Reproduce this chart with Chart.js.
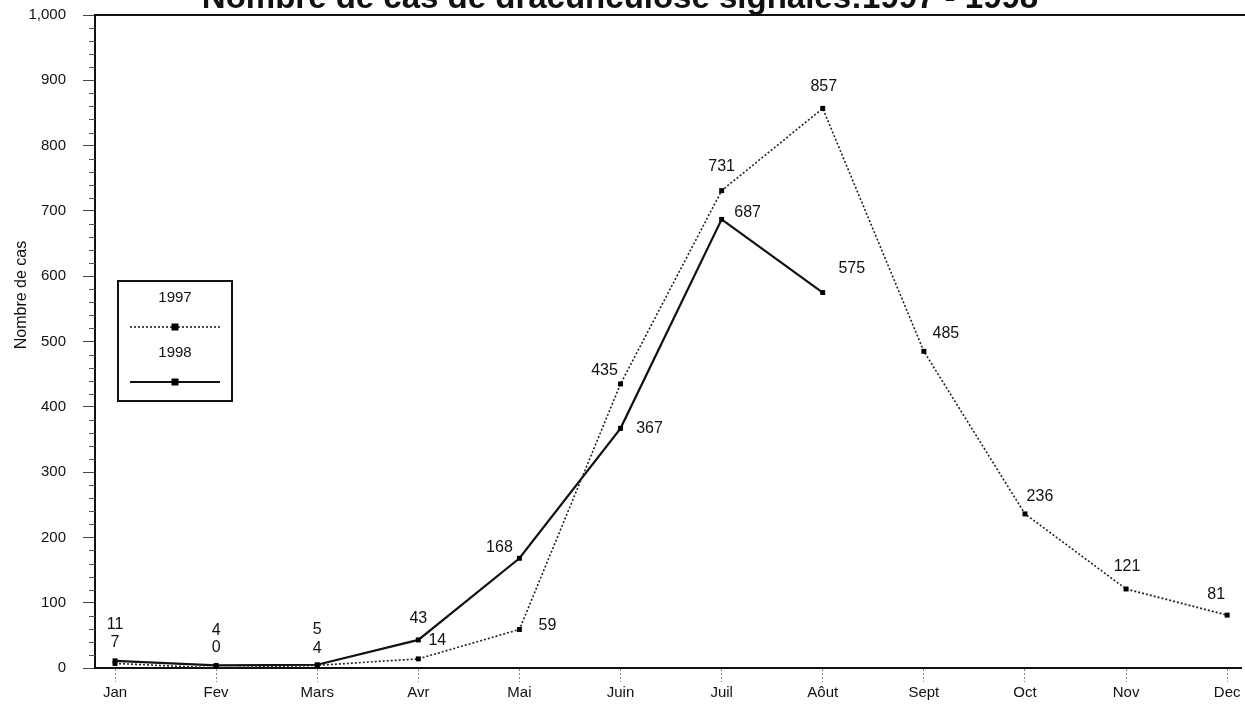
<!DOCTYPE html>
<html>
<head>
<meta charset="utf-8">
<script src="https://cdn.jsdelivr.net/npm/chart.js@4/dist/chart.umd.min.js"></script>
<style>
html,body{margin:0;padding:0;background:#fff;}
#wrap{position:relative;width:1245px;height:711px;overflow:hidden;}
canvas{display:block;}
</style>
</head>
<body>
<div id="wrap"><canvas id="c" width="1245" height="711"></canvas></div>
<script>
// ---- data ----
const months = ["Jan","Fev","Mars","Avr","Mai","Juin","Juil","Aôut","Sept","Oct","Nov","Dec"];
const cases1997 = [7, 0, 4, 14, 59, 435, 731, 857, 485, 236, 121, 81];
const cases1998 = [11, 4, 5, 43, 168, 367, 687, 575];
const seriesNames = ["1997", "1998"];
const yTicksMax = 1000;
const chartTitle = "Nombre de cas de dracunculose signalés:1997 - 1998";
const yAxisTitle = "Nombre de cas";

// ---- label placement (style, px offsets from each point) ----
const labelOffsets1997 = [[0,-21],[0,-20],[0,-17],[19,-18],[28,-4],[-16,-13],[0,-24],[1,-22],[22,-18],[15,-17],[1,-22],[-11,-21]];
const labelOffsets1998 = [[0,-36],[0,-35],[0,-35],[0,-21],[-20,-11],[29,0],[26,-7],[29,-24]];

const FONT = "'Liberation Sans', Arial, sans-serif";

const toXY = arr => arr.map((v, i) => ({x: i, y: v}));

const decorations = {
  id: 'decorations',
  beforeDraw(chart) {
    const ctx = chart.ctx;
    ctx.save();
    ctx.fillStyle = '#fff';
    ctx.fillRect(0, 0, chart.width, chart.height);
    ctx.restore();
  },
  afterDraw(chart) {
    const ctx = chart.ctx;
    const ys = chart.scales.y, xs = chart.scales.x;
    const area = chart.chartArea;
    ctx.save();
    // top frame line
    ctx.strokeStyle = '#111';
    ctx.lineWidth = 2;
    ctx.beginPath();
    ctx.moveTo(area.left - 1, ys.getPixelForValue(yTicksMax));
    ctx.lineTo(chart.width, ys.getPixelForValue(yTicksMax));
    ctx.stroke();
    // minor y ticks
    ctx.strokeStyle = '#555';
    ctx.lineWidth = 1;
    for (let v = 20; v < yTicksMax; v += 20) {
      if (v % 100 === 0) continue;
      const py = Math.round(ys.getPixelForValue(v)) + 0.5;
      ctx.beginPath();
      ctx.moveTo(area.left - 6, py);
      ctx.lineTo(area.left, py);
      ctx.stroke();
    }
    // y axis title
    ctx.fillStyle = '#111';
    ctx.font = '16px ' + FONT;
    ctx.textAlign = 'center';
    ctx.textBaseline = 'middle';
    ctx.save();
    ctx.translate(22, 295);
    ctx.rotate(-Math.PI / 2);
    ctx.fillText(yAxisTitle, 0, 0);
    ctx.restore();
    // chart title (partially cut at top as in original)
    ctx.font = 'bold 33px ' + FONT;
    ctx.textAlign = 'center';
    ctx.textBaseline = 'alphabetic';
    ctx.fillText(chartTitle, 620, 8);
    // data labels
    ctx.font = '16px ' + FONT;
    ctx.textAlign = 'center';
    ctx.textBaseline = 'middle';
    const offs = [labelOffsets1997, labelOffsets1998];
    chart.data.datasets.forEach((ds, di) => {
      const meta = chart.getDatasetMeta(di);
      meta.data.forEach((pt, i) => {
        const o = offs[di][i] || [0, -20];
        ctx.fillText(String(ds.data[i].y), pt.x + o[0], pt.y + o[1]);
      });
    });
    // legend box
    const lx = 118, ly = 281, lw = 114, lh = 120;
    ctx.strokeStyle = '#111';
    ctx.lineWidth = 2;
    ctx.strokeRect(lx, ly, lw, lh);
    ctx.font = '15px ' + FONT;
    chart.data.datasets.forEach((ds, di) => {
      const ty = ly + 17 + di * 55;
      const sy = ly + 46 + di * 55;
      ctx.fillStyle = '#111';
      ctx.fillText(ds.label, lx + lw / 2, ty);
      ctx.strokeStyle = ds.borderColor;
      ctx.lineWidth = ds.borderWidth;
      ctx.setLineDash(ds.borderDash || []);
      ctx.beginPath();
      ctx.moveTo(lx + 12, sy);
      ctx.lineTo(lx + lw - 12, sy);
      ctx.stroke();
      ctx.setLineDash([]);
      ctx.fillStyle = '#000';
      ctx.fillRect(lx + lw / 2 - 3.5, sy - 3.5, 7, 7);
    });
    ctx.restore();
  }
};

new Chart(document.getElementById('c'), {
  type: 'line',
  data: {
    datasets: [
      {
        label: seriesNames[0],
        data: toXY(cases1997),
        borderColor: '#222',
        borderWidth: 1.6,
        borderDash: [2, 2],
        pointStyle: 'rect',
        pointRadius: 3.5,
        pointBackgroundColor: '#000',
        pointBorderColor: '#000',
        pointBorderWidth: 0,
        tension: 0,
        fill: false
      },
      {
        label: seriesNames[1],
        data: toXY(cases1998),
        borderColor: '#111',
        borderWidth: 2.2,
        pointStyle: 'rect',
        pointRadius: 3.5,
        pointBackgroundColor: '#000',
        pointBorderColor: '#000',
        pointBorderWidth: 0,
        tension: 0,
        fill: false
      }
    ]
  },
  options: {
    responsive: false,
    animation: false,
    events: [],
    layout: { padding: { top: 15, right: 0, left: 0, bottom: 0 } },
    plugins: { legend: { display: false }, title: { display: false }, tooltip: { enabled: false } },
    scales: {
      x: {
        type: 'linear',
        min: -0.198,
        max: 11.137,
        afterFit(scale) { scale.height = 43; },
        afterBuildTicks(scale) { scale.ticks = months.map((m, i) => ({ value: i })); },
        ticks: {
          autoSkip: false,
          maxRotation: 0,
          padding: 2,
          color: '#111',
          font: { family: FONT, size: 15 },
          callback: (v) => months[v] !== undefined ? months[v] : ''
        },
        grid: {
          drawOnChartArea: false,
          drawTicks: true,
          tickLength: 14,
          tickColor: '#888',
          tickBorderDash: [2, 2],
          tickWidth: 1
        },
        border: { display: true, color: '#111', width: 2 }
      },
      y: {
        min: 0,
        max: yTicksMax,
        afterFit(scale) { scale.width = 95; scale.paddingTop = 0; scale.paddingBottom = 0; },
        ticks: {
          stepSize: 100,
          padding: 17,
          color: '#111',
          font: { family: FONT, size: 15 },
          callback: (v) => v.toLocaleString('en-US')
        },
        grid: {
          drawOnChartArea: false,
          drawTicks: true,
          tickLength: 12,
          tickColor: '#444',
          tickWidth: 1
        },
        border: { display: true, color: '#111', width: 2 }
      }
    }
  },
  plugins: [decorations]
});
</script>
</body>
</html>
